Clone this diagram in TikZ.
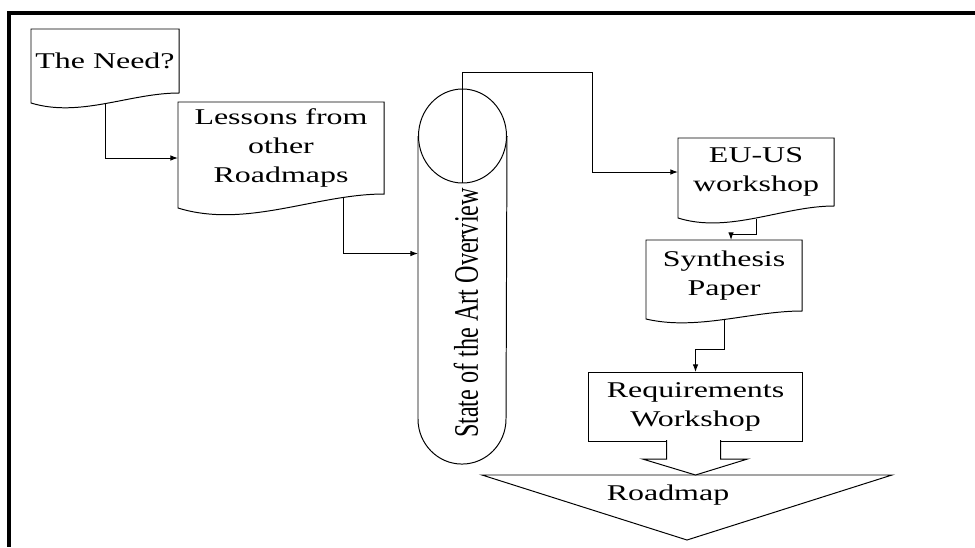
\documentclass[tikz,border=0pt]{standalone}
\usepackage{fontspec}
\setmainfont{Liberation Serif}
\newfontfamily\widefont[FakeStretch = 1.42]{Liberation Serif}
\usetikzlibrary{arrows.meta, calc}

\begin{document}
\begin{tikzpicture}[x = 0.025cm, y = -0.025cm, line width = 0.7pt,
	box/.style = {inner sep = 0, anchor = north west, align = center,
		font = \widefont\fontsize{16}{20.6}\selectfont},
	link/.style = {-{Latex[length = 5.5pt, width = 4pt]}}]
\useasboundingbox (0, 0) rectangle (975, 547);
\draw[line width = 0.1cm] (975, 13) -- (9, 13) -- (9, 547);

\node[box, minimum width = 3.675cm, minimum height = 1.575cm] (need) at (31, 29) {The Need?};
\draw (need.south east) .. controls +(-49, 0) and +(49, 15) ..
	($(need.south west) + (0, 10)$) --
	(need.north west) -- (need.north east) -- cycle;

\node[box, minimum width = 5.125cm, minimum height = 2.275cm] (lessons) at (178, 102) {Lessons from\\other\\Roadmaps};
\draw (lessons.south east) .. controls +(-68, 0) and +(68, 21) ..
	($(lessons.south west) + (0, 14)$) --
	(lessons.north west) -- (lessons.north east) -- cycle;

\node[inner sep = 0, anchor = north west, minimum width = 2.2cm, minimum height = 7.05cm] (drum) at (418, 136) {};
\draw (drum.north) ellipse [x radius = 44, y radius = 47];
\draw (drum.north west) -- (drum.south west)
	arc[start angle = 180, end angle = 0, x radius = 44, y radius = 45] --
	(drum.north east);
\node[rotate = 90, inner sep = 0, font = \fontsize{17.2}{20}\selectfont] (state) at (466, 313)
	{\scalebox{1}[1.42]{State of the Art Overview}};

\node[box, minimum width = 3.875cm, minimum height = 1.675cm] (euus) at (678, 138) {EU-US\\workshop};
\draw (euus.south east) .. controls +(-51, 0) and +(51, 16) ..
	($(euus.south west) + (0, 12)$) --
	(euus.north west) -- (euus.north east) -- cycle;

\node[box, minimum width = 3.875cm, minimum height = 1.75cm] (synth) at (646, 240) {Synthesis\\Paper};
\draw (synth.south east) .. controls +(-51, 0) and +(51, 12) ..
	($(synth.south west) + (0, 8)$) --
	(synth.north west) -- (synth.north east) -- cycle;

\node[box, draw, minimum width = 5.35cm, minimum height = 1.725cm] (req) at (588, 372) {Requirements\\Workshop};

\draw (482, 475) -- (892, 475) -- (687, 540) -- cycle;
\node[anchor = base, font = \widefont\fontsize{16}{20.6}\selectfont] (roadmap) at (668, 500) {Roadmap};

\draw[fill = white]
	($(req.south) + (-29, -2)$) -- ++(0, 19) -- ++(-24, 0) --
	($(req.south) + (0, 33)$) -- ++(52, -16) -- ++(-27, 0) -- ++(0, -19);

\draw[link] ($(need.south) + (0, 10)$) |- ($(lessons.west) + (0, 10)$);
\draw[link] ($(lessons.south) + (62, 3)$) |- ($(drum.west) + (0, -24)$);
\draw[link] ($(drum.north) + (0, 47)$) -- ++(0, -111) -| ($(euus.west) + (-86, 0)$) -- (euus.west);
\draw[link] ($(euus.south) + (0, 13)$) -- ++(0, 15) -| ($(synth.north) + (7, 0)$);
\draw[link] ($(synth.south) + (0, 8)$) -- ++(0, 30) -| (req.north);
\end{tikzpicture}
\end{document}
